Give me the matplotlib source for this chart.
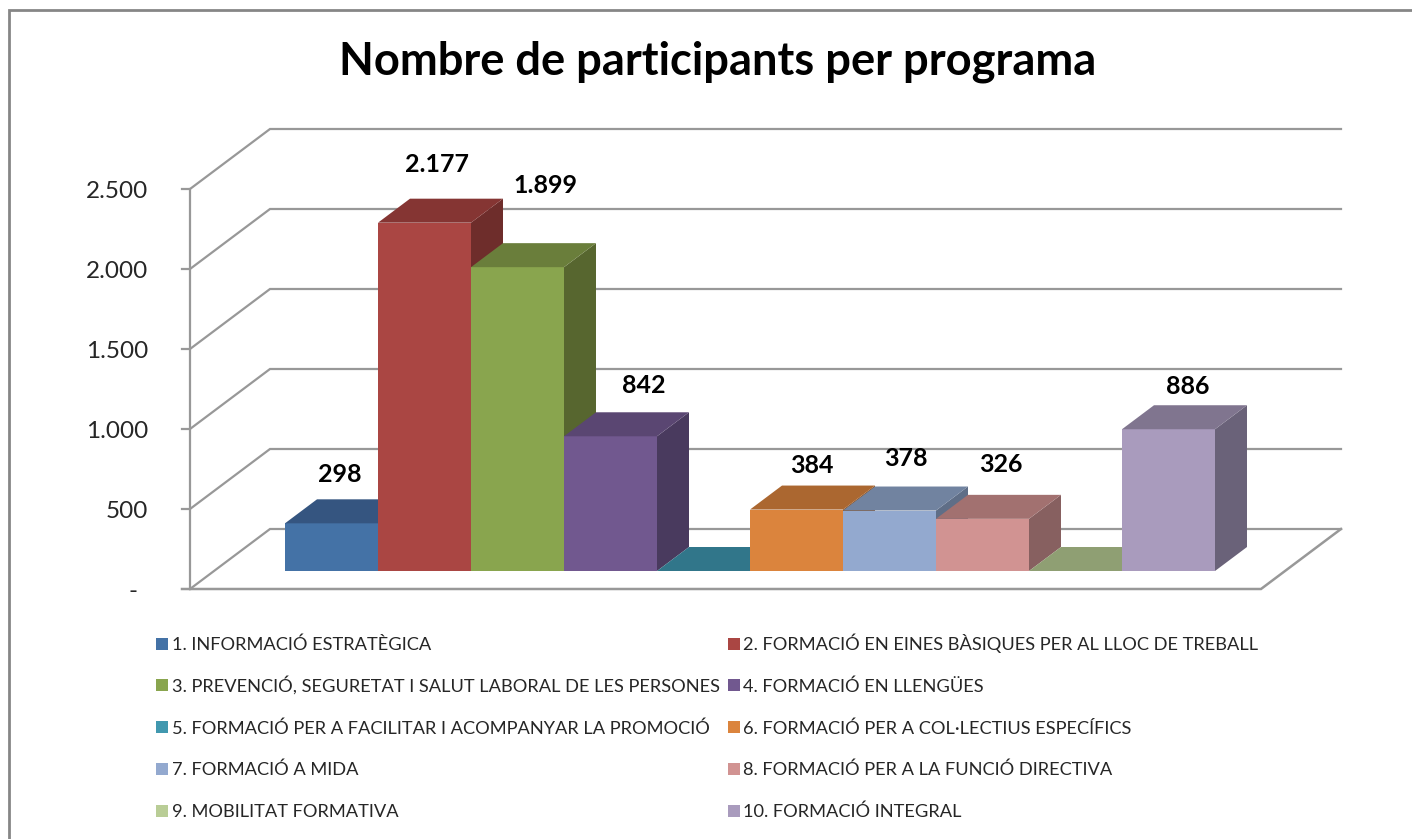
import numpy as np
import matplotlib
matplotlib.use('Agg')
import matplotlib.pyplot as plt
from matplotlib.patches import Polygon, Rectangle

plt.rcParams['font.family'] = ['Lato', 'DejaVu Sans']

programes = ['1. INFORMACIÓ ESTRATÈGICA',
             '2. FORMACIÓ EN EINES BÀSIQUES PER AL LLOC DE TREBALL',
             '3. PREVENCIÓ, SEGURETAT I SALUT LABORAL DE LES PERSONES',
             '4. FORMACIÓ EN LLENGÜES',
             '5. FORMACIÓ PER A FACILITAR I ACOMPANYAR LA PROMOCIÓ',
             '6. FORMACIÓ PER A COL·LECTIUS ESPECÍFICS',
             '7. FORMACIÓ A MIDA',
             '8. FORMACIÓ PER A LA FUNCIÓ DIRECTIVA',
             '9. MOBILITAT FORMATIVA',
             '10. FORMACIÓ INTEGRAL']
participants = [298, 2177, 1899, 842, 0, 384, 378, 326, 0, 886]
etiquetes = ['298', '2.177', '1.899', '842', None, '384', '378', '326', None, '886']
y_ticks = [0, 500, 1000, 1500, 2000, 2500]
y_labels = ['-', '500', '1.000', '1.500', '2.000', '2.500']

# colors: cara frontal, cara superior, lateral
front = ['#4472a6', '#aa4643', '#89a54e', '#71588f', '#4198af',
         '#db843d', '#93a9cf', '#d19392', '#b9cd96', '#a99bbd']
top = ['#355580', '#853533', '#6a7e3b', '#5a4672', '#31768a',
       '#ab6730', '#7183a0', '#a27170', '#8f9f73', '#80758f']
side = ['#2c4669', '#6e2d2b', '#57662f', '#493a5e', '#28616f',
        '#8c5528', '#5f6e87', '#876060', '#75835f', '#6a6279']
# desplacament de l'etiqueta respecte a la barra (pixels)
label_dx = [8, 12, 28, 33, 0, 15, 16, 18, 0, 19]
label_dy = [49, 58, 82, 51, 0, 44, 52, 54, 0, 43]

W, H = 1412, 839
fig = plt.figure(figsize=(W / 100, H / 100), dpi=100)
ax = fig.add_axes([0, 0, 1, 1])
# 1 categoria = 93 px, 500 participants = 80 px
ax.set_xlim(-261 / 93, (W - 261) / 93)
ax.set_ylim(-(H - 589) / 0.16, 589 / 0.16)
ax.axis('off')

DX = 80 / 93
DY = 60 / 0.16
GRID = '#989898'
x0, x1 = -71 / 93, 10 + 70 / 93


def proj(x, v, d):
    return (x + d * DX, v + d * DY)


# marc exterior: nomes dalt i a l'esquerra
ax.plot([1, 9 / W, 9 / W], [1 - 9.5 / H, 1 - 9.5 / H, 0], transform=ax.transAxes,
        color='#868686', lw=2, solid_joinstyle='miter')

# graella i parets
for v in y_ticks[1:]:
    pts = [proj(x0 - 8 / 93, v, 0), proj(x0, v, 0), proj(x0, v, 1), proj(x1, v, 1)]
    ax.plot(*zip(*pts), color=GRID, lw=1.6, solid_joinstyle='miter')
ax.plot(*zip(proj(x0, 0, 0), proj(x0, 0, 1), proj(x1, 0, 1)), color=GRID, lw=1.6, solid_joinstyle='miter')
ax.plot(*zip(proj(x0, 0, 0), proj(x0, 2500, 0)), color=GRID, lw=1.6)
ax.plot(*zip(proj(x0 - 8 / 93, 0, 0), proj(x1, 0, 0), proj(x1, 0, 1)), color=GRID, lw=1.8,
        solid_joinstyle='miter')

# barres, d'esquerra a dreta
for i, v in enumerate(participants):
    z = 3 + i
    if v > 0:
        ax.add_patch(Polygon([proj(i + 1, 0, .3), proj(i + 1, 0, .7), proj(i + 1, v, .7), proj(i + 1, v, .3)],
                             facecolor=side[i], edgecolor='none', zorder=z))
        ax.add_patch(Polygon([proj(i, 0, .3), proj(i + 1, 0, .3), proj(i + 1, v, .3), proj(i, v, .3)],
                             facecolor=front[i], edgecolor='none', zorder=z))
    ax.add_patch(Polygon([proj(i, v, .3), proj(i + 1, v, .3), proj(i + 1, v, .7), proj(i, v, .7)],
                         facecolor=top[i], edgecolor='none', zorder=z))

for i, v in enumerate(participants):
    if etiquetes[i]:
        ax.annotate(etiquetes[i], proj(i + .5, v, .3), xytext=(label_dx[i] * .72, label_dy[i] * .72),
                    textcoords='offset points', ha='center', va='center', zorder=20,
                    fontsize=18, fontweight='bold', color='black')

for v, lab in zip(y_ticks, y_labels):
    dx = -52 if lab == '-' else -42
    ax.annotate(lab, proj(x0, v, 0), xytext=(dx * .72, -2 * .72), textcoords='offset points',
                ha='right', va='center', fontsize=17.5, color='#262626')

ax.text(718 / W, 1 - 62 / H, 'Nombre de participants per programa', transform=ax.transAxes,
        ha='center', va='center', fontsize=32.6, fontweight='bold', color='black')

# llegenda en dues columnes
files = [643.5, 685, 727, 768.5, 810.5]
for k, nom in enumerate(programes):
    col, fila = k % 2, k // 2
    xs = [155.5, 728][col]
    xt = [172, 743][col]
    yc = files[fila]
    ax.add_patch(Rectangle((xs / W, 1 - (yc + 6) / H), 12 / W, 12 / H, transform=ax.transAxes,
                           facecolor=front[k], edgecolor='none'))
    ax.text(xt / W, 1 - (yc + 6.5) / H, nom, transform=ax.transAxes, ha='left', va='baseline',
            fontsize=13.15, color='#262626')

fig.savefig('out.png', dpi=100)
